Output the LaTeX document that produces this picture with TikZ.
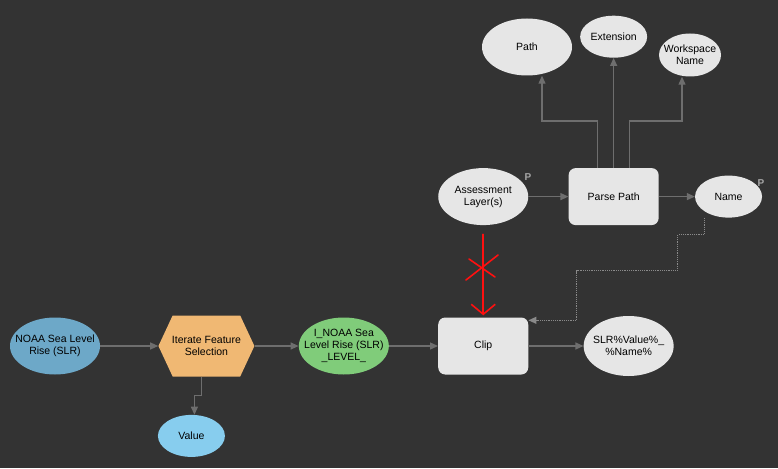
\documentclass[tikz,border=0pt]{standalone}
\usepackage{fontspec}
\setmainfont{Liberation Sans}
\usetikzlibrary{arrows.meta, positioning, shapes.geometric, shapes.symbols}

\definecolor{bgdark}{HTML}{333333}
\definecolor{nodefill}{HTML}{E6E6E6}
\definecolor{linegray}{HTML}{6E6E6E}
\definecolor{dotgray}{HTML}{8A8A8A}
\definecolor{datablue}{HTML}{6DA8C8}
\definecolor{iterorange}{HTML}{F0B873}
\definecolor{outgreen}{HTML}{80CC7A}
\definecolor{valueblue}{HTML}{87CDEE}
\definecolor{pgray}{HTML}{A6A6A6}
\definecolor{markred}{HTML}{FF1010}

\tikzset{
    txt/.style={font=\fontsize{10.5}{12}\selectfont, align=center, text=black},
    oval/.style={ellipse, inner sep=0pt, fill=nodefill, minimum width=90pt, minimum height=57pt},
    smalloval/.style={oval, minimum width=67pt, minimum height=42pt},
    tool/.style={rectangle, rounded corners=7pt, fill=nodefill, minimum width=90pt, minimum height=57pt, inner sep=0pt, txt},
    iterator/.style={signal, signal to=west and east, signal pointer angle=130, fill=iterorange, minimum width=96pt, minimum height=61pt, inner sep=0pt},
    plab/.style={font=\fontsize{10}{10}\selectfont\bfseries, text=pgray, inner sep=0pt},
    flow/.style={draw=linegray, line width=1.2pt, -{Triangle[width=7pt,length=8pt]}},
    param/.style={flow, densely dotted, draw=dotgray},
    redmark/.style={draw=markred, line width=1.6pt, line cap=round, line join=round},
}

\begin{document}
\begin{tikzpicture}[x=1pt, y=-1pt]
    \fill[bgdark] (0,0) rectangle (778,468);

    % main row
    \node[oval, fill=datablue, label={[txt]center:NOAA Sea Level\\Rise (SLR)}] (noaa) at (55,346) {};
    \node[iterator, right=58pt of noaa, label={[txt]center:Iterate Feature\\Selection}] (iter) {};
    \node[oval, fill=outgreen, right=44pt of iter, label={[txt]center:I\_NOAA Sea\\Level Rise (SLR)\\\_LEVEL\_}] (inoaa) {};
    \node[tool, right=49pt of inoaa] (clip) {Clip};
    \node[oval, minimum height=60pt, right=55pt of clip, label={[txt]center:SLR\%Value\%\_\\\%Name\%}] (slr) {};
    \node[smalloval, fill=valueblue, below=38pt of iter, xshift=-15pt, label={[txt]center:Value}] (value) {};

    % parse path row
    \node[oval, above=92pt of clip, label={[txt]center:Assessment\\Layer(s)}] (assess) {};
    \node[tool, right=40pt of assess] (parse) {Parse Path};
    \node[smalloval, right=36pt of parse, label={[txt]center:Name}] (name) {};
    \node[smalloval, above=110pt of parse, label={[txt]center:Extension}] (ext) {};
    \node[oval, label={[txt]center:Path}] (path) at (527,47) {};
    \node[smalloval, minimum width=62pt, minimum height=43pt, label={[txt]center:Workspace\\Name}] (wsname) at (690,55) {};

    \node[plab] (assessP) at (528,177) {P};
    \node[plab] (nameP) at (761,183) {P};

    % connectors
    \draw[flow] (noaa) -- (iter);
    \draw[flow] (iter) -- (inoaa);
    \draw[flow] (inoaa) -- (clip);
    \draw[flow] (clip) -- (slr);
    \draw[flow] ([xshift=-5pt]iter.south) -- ++(0,19) -| ([xshift=3pt]value.north);
    \draw[flow] (assess) -- (parse);
    \draw[flow] (parse) -- (name);
    \draw[flow] ([xshift=-16pt]parse.north) -- ++(0,-47) -| ([xshift=15pt]path.south);
    \draw[flow] (parse.north) -- (ext.south);
    \draw[flow] ([xshift=16pt]parse.north) -- ++(0,-47) -| ([xshift=-8pt]wsname.south);
    \draw[param] ([xshift=-24pt]name.south) -- ++(0,17) -- ++(-27,0) -- ++(0,36) -- ++(-101,0) |- ([yshift=-3pt]clip.north east);

    % crossed out link
    \draw[redmark, shorten <=9pt, shorten >=2pt, -{Straight Barb[width=24pt,length=10pt]}] (assess) -- (clip);
    \coordinate (cross) at (482,267);
    \draw[redmark] (cross) ++(-16,13) -- ++(32,-25);
    \draw[redmark] (cross) ++(-13,-8) -- ++(26,18);
\end{tikzpicture}
\end{document}
